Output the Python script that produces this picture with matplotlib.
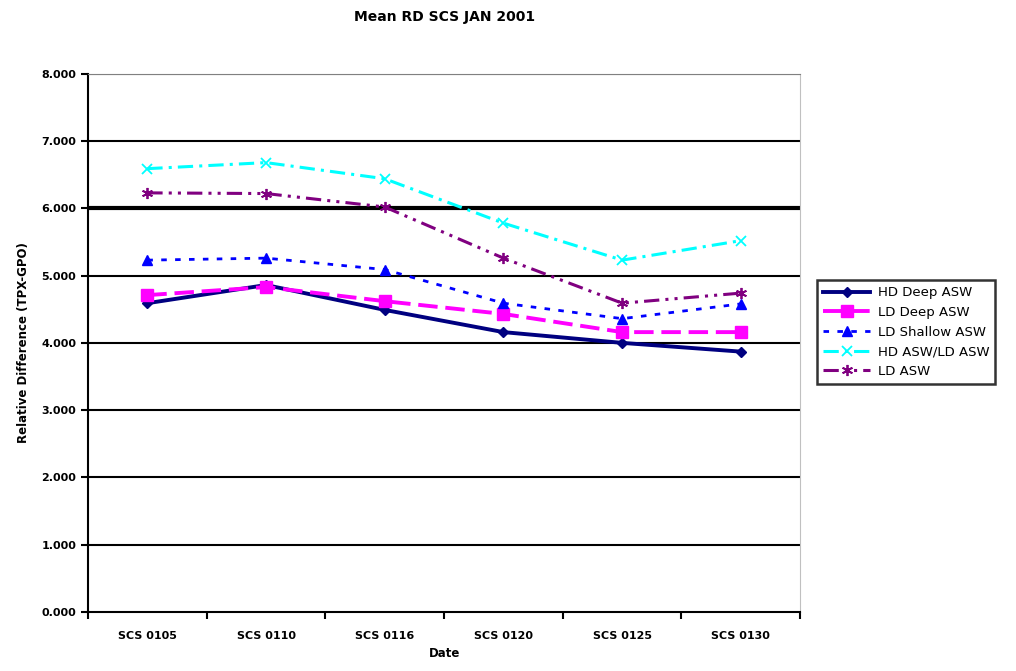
import numpy as np
import matplotlib.pyplot as plt

# Mean relative difference per date
dates = ['SCS 0105', 'SCS 0110', 'SCS 0116', 'SCS 0120', 'SCS 0125', 'SCS 0130']
hd_deep = [4.59, 4.86, 4.49, 4.16, 4.00, 3.87]
ld_deep = [4.71, 4.83, 4.62, 4.43, 4.16, 4.16]
ld_shallow = [5.23, 5.26, 5.09, 4.59, 4.36, 4.58]
hd_ld_asw = [6.59, 6.68, 6.44, 5.78, 5.23, 5.52]
ld_asw = [6.23, 6.22, 6.02, 5.26, 4.59, 4.74]

plt.rcParams['font.family'] = 'DejaVu Sans'
fig = plt.figure(figsize=(10.16, 6.71), dpi=100)
ax = fig.add_axes([0.0866, 0.088, 0.701, 0.802])

x = np.arange(len(dates))
ax.plot(x, hd_deep, color='#000080', lw=2.8, ls='-', marker='D', ms=5, label='HD Deep ASW')
ax.plot(x, ld_deep, color='#FF00FF', lw=2.8, ls=(0, (5, 2)), marker='s', ms=8, label='LD Deep ASW')
ax.plot(x, ld_shallow, color='#0000FF', lw=2, ls=(0, (2, 3)), marker='^', ms=7, label='LD Shallow ASW')
ax.plot(x, hd_ld_asw, color='#00FFFF', lw=2.2, ls=(0, (5, 2, 1, 2)), marker='x', ms=7, mew=1.3, label='HD ASW/LD ASW')
ax.plot(x, ld_asw, color='#800080', lw=2.2, ls=(0, (5, 2, 1, 2, 1, 2)), marker=(6, 2, 0), ms=8, mew=1.3, label='LD ASW')

ax.set_xlim(-0.5, len(dates) - 0.5)
ax.set_ylim(0, 8)
ax.set_yticks(np.arange(0, 9, 1))
ax.set_yticklabels(['%.3f' % v for v in range(9)], fontsize=8, fontweight='bold')
ax.set_xticks(x)
ax.set_xticklabels(dates, fontsize=8, fontweight='bold')
ax.set_xticks(np.arange(-0.5, len(dates), 1), minor=True)
ax.tick_params(axis='x', which='major', length=0, pad=14)
ax.tick_params(axis='x', which='minor', length=5, width=1.5, direction='out')
ax.tick_params(axis='y', length=5, width=1.5, direction='out')

for v in range(1, 8):
    ax.axhline(v, color='black', lw=3 if v == 6 else 1.5, zorder=0)
ax.axhline(8, color='#808080', lw=1.5, zorder=0)

ax.spines['left'].set_linewidth(1.5)
ax.spines['bottom'].set_linewidth(1.5)
ax.spines['top'].set_color('#808080')
ax.spines['right'].set_color('#c0c0c0')

ax.set_title('Mean RD SCS JAN 2001', fontsize=10, fontweight='bold', pad=38)
ax.set_xlabel('Date', fontsize=8.5, fontweight='bold', labelpad=4)
ax.set_ylabel('Relative Difference (TPX-GPO)', fontsize=8.5, fontweight='bold', labelpad=8)

leg = ax.legend(loc='center left', bbox_to_anchor=(1.015, 0.52), fontsize=9.5,
                frameon=True, fancybox=False, edgecolor='black', handlelength=3.5,
                borderpad=0.45, labelspacing=0.5, handletextpad=0.6)
leg.get_frame().set_linewidth(1.8)

fig.savefig('out.png', dpi=100)
